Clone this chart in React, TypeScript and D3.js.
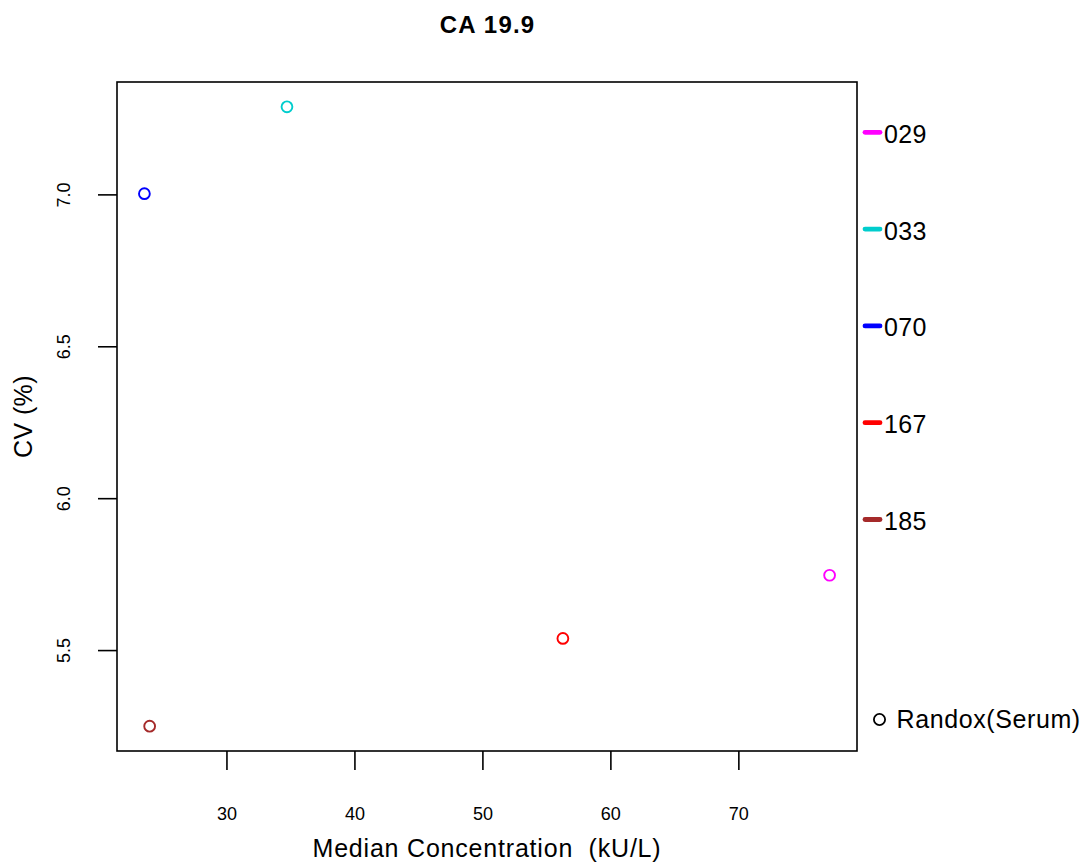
import React from "react";
import * as d3 from "d3";

const labs = ["029", "033", "070", "167", "185"];
const colors = ["#FF00FF", "#00CDCD", "#0000FF", "#FF0000", "#A52A2A"];
const medianConc = [77.09, 34.69, 23.55, 56.25, 23.96];
const cvPct = [5.748, 7.29, 7.004, 5.54, 5.251];
const xTicks = [30, 40, 50, 60, 70];
const yTicks = [5.5, 6.0, 6.5, 7.0];
const title = "CA 19.9";
const xTitle = "Median Concentration  (kU/L)";
const yTitle = "CV (%)";
const legendSymbolLabel = "Randox(Serum)";

const W = 1087;
const H = 862;
const M = { left: 117, right: 857, top: 82, bottom: 751 };
const FONT = "'Liberation Sans', Arial, Helvetica, sans-serif";

function pad(ext: [number, number]): [number, number] {
  const r = ext[1] - ext[0];
  return [ext[0] - 0.04 * r, ext[1] + 0.04 * r];
}

export default function App() {
  const x = d3.scaleLinear().domain(pad(d3.extent(medianConc) as [number, number])).range([M.left, M.right]);
  const y = d3.scaleLinear().domain(pad(d3.extent(cvPct) as [number, number])).range([M.bottom, M.top]);
  const tickLen = 19;
  const legendY = d3.scaleLinear().domain([0, labs.length - 1]).range([132.3, 519.5]);
  const cx = (M.left + M.right) / 2;
  const cy = (M.top + M.bottom) / 2;

  return (
    <svg width={W} height={H} style={{ position: "absolute", left: 0, top: 0, background: "#fff" }} fontFamily={FONT}>
      <rect x={0} y={0} width={W} height={H} fill="#fff" />
      <text x={cx + 0.6} y={33.3} textAnchor="middle" fontSize={24} letterSpacing={1.2} fontWeight="bold" fill="#000">{title}</text>
      <rect x={M.left} y={M.top} width={M.right - M.left} height={M.bottom - M.top} fill="none" stroke="#000" strokeWidth={1.6} />
      {xTicks.map((t) => (
        <g key={"x" + t}>
          <line x1={x(t)} x2={x(t)} y1={M.bottom} y2={M.bottom + tickLen} stroke="#000" strokeWidth={1.6} />
          <text x={x(t)} y={820} textAnchor="middle" fontSize={18} fill="#000">{t}</text>
        </g>
      ))}
      {yTicks.map((t) => (
        <g key={"y" + t}>
          <line x1={M.left - tickLen} x2={M.left} y1={y(t)} y2={y(t)} stroke="#000" strokeWidth={1.6} />
          <text transform={`translate(69.5,${y(t)}) rotate(-90)`} textAnchor="middle" fontSize={18} fill="#000">{t.toFixed(1)}</text>
        </g>
      ))}
      <text x={cx} y={856.5} textAnchor="middle" fontSize={25} letterSpacing={0.8} fill="#000" style={{ whiteSpace: "pre" }}>{xTitle}</text>
      <text transform={`translate(32,${cy}) rotate(-90)`} textAnchor="middle" fontSize={25} letterSpacing={0.4} fill="#000">{yTitle}</text>
      {medianConc.map((v, i) => (
        <circle key={"p" + i} cx={x(v)} cy={y(cvPct[i])} r={5.4} fill="none" stroke={colors[i]} strokeWidth={1.9} />
      ))}
      {labs.map((l, i) => (
        <g key={"l" + l}>
          <line x1={865} x2={880} y1={legendY(i)} y2={legendY(i)} stroke={colors[i]} strokeWidth={4.8} strokeLinecap="round" />
          <text x={884} y={legendY(i) + 10.5} fontSize={25} letterSpacing={0.4} fill="#000">{l}</text>
        </g>
      ))}
      <circle cx={879.5} cy={719.5} r={5.6} fill="none" stroke="#000" strokeWidth={1.8} />
      <text x={896.5} y={727.5} fontSize={25} letterSpacing={0.6} fill="#000">{legendSymbolLabel}</text>
    </svg>
  );
}
